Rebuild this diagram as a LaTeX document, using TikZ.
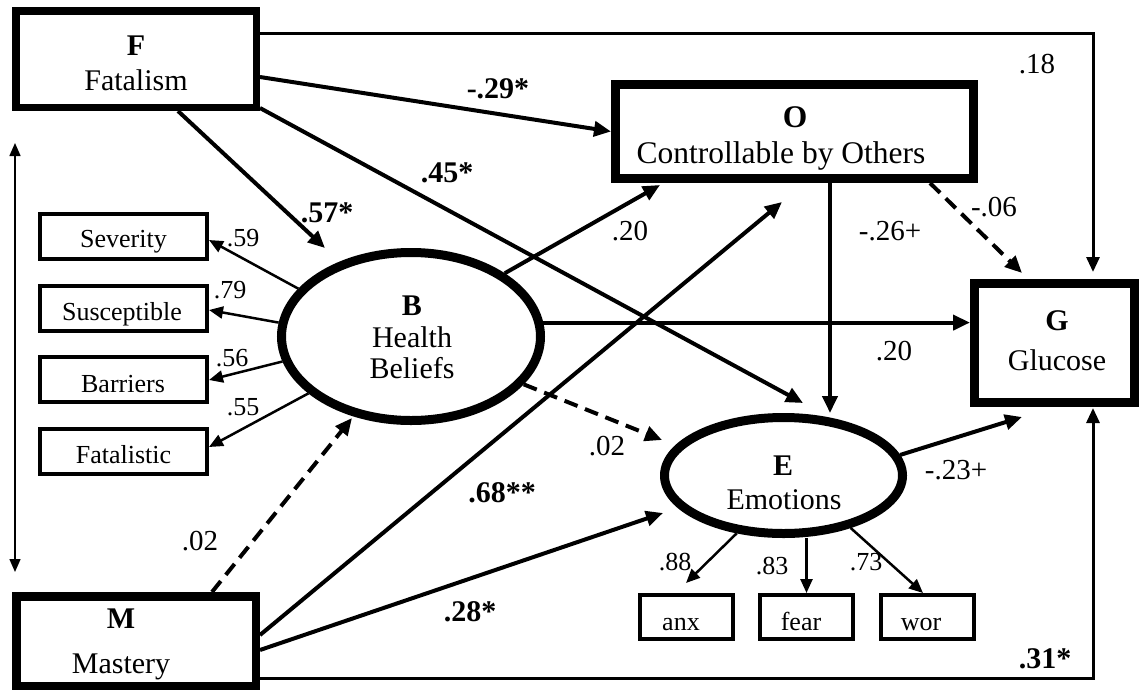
\documentclass[tikz,border=0pt]{standalone}
\usepackage{fontspec}
\setmainfont{Liberation Serif}
\usetikzlibrary{arrows.meta,shapes.geometric,calc}
\begin{document}
\begin{tikzpicture}[x=1pt,y=-1pt,
  bigbox/.style={draw,rectangle,inner sep=0pt},
  latent/.style={draw,ellipse,inner sep=0pt,line width=9pt},
  indic/.style={draw,rectangle,inner sep=0pt,line width=4pt,minimum width=167pt,minimum height=45pt},
  indicE/.style={draw,rectangle,inner sep=0pt,line width=4pt,minimum width=93pt,minimum height=44pt},
  arrmain/.style={line width=4pt,-{Triangle[length=17pt,width=15pt]}},
  arrline/.style={line width=3pt,-{Triangle[length=15pt,width=13pt]}},
  arrdash/.style={arrmain,dash pattern=on 14pt off 8pt},
  arrthin/.style={line width=2.5pt,-{Triangle[length=14pt,width=12pt]}},
  arrdouble/.style={line width=1.5pt,{Triangle[length=13pt,width=11pt]}-{Triangle[length=13pt,width=11pt]}},
  ttl/.style={font=\fontsize{30}{32}\selectfont,anchor=base,inner sep=0pt},
  ttlO/.style={font=\fontsize{31.5}{33}\selectfont,anchor=base,inner sep=0pt},
  indtxt/.style={font=\fontsize{26}{28}\selectfont,anchor=base,inner sep=0pt},
  lblb/.style={font=\fontsize{30}{32}\selectfont\bfseries,inner sep=0pt},
  lblm/.style={font=\fontsize{29}{31}\selectfont,inner sep=0pt},
  lbls/.style={font=\fontsize{26}{28}\selectfont,inner sep=0pt}
]
\fill[white] (0,0) rectangle (1141,691);
\useasboundingbox (0,0) rectangle (1141,691);

% main nodes
\node[bigbox,line width=7.5pt,minimum width=240.5pt,minimum height=96.5pt] (F) at (136,59) {};
\node[bigbox,line width=9pt,minimum width=358pt,minimum height=94pt] (O) at (794.5,131.5) {};
\node[bigbox,line width=9pt,minimum width=160pt,minimum height=119pt] (G) at (1054.5,343) {};
\node[bigbox,line width=8.5pt,minimum width=239.5pt,minimum height=89.5pt] (M) at (136,641) {};
\node[latent,minimum width=259pt,minimum height=168pt] (B) at (411,336.5) {};
\node[latent,minimum width=238pt,minimum height=116pt] (E) at (783.5,475.5) {};

% texts of main nodes
\node[ttl] (Ft1) at (136,55) {\textbf{F}};
\node[ttl] (Ft2) at (136,90) {Fatalism};
\node[ttlO] (Ot1) at (795,127) {\textbf{O}};
\node[ttlO] (Ot2) at (781,163) {Controllable by Others};
\node[ttl] (Gt1) at (1057,330) {\textbf{G}};
\node[ttl] (Gt2) at (1057,370) {Glucose};
\node[ttl] (Mt1) at (121,628) {\textbf{M}};
\node[ttl] (Mt2) at (121,673) {Mastery};
\node[ttl] (Bt1) at (412,315) {\textbf{B}};
\node[ttl] (Bt2) at (412,347) {Health};
\node[ttl] (Bt3) at (412,378) {Beliefs};
\node[ttl] (Et1) at (783,475) {\textbf{E}};
\node[ttl] (Et2) at (784,509) {Emotions};

% indicators
\node[indic] (sev) at (123.5,236.5) {};
\node[indic] (sus) at (123.5,308) {};
\node[indic] (bar) at (123.5,379) {};
\node[indic] (fat) at (123.5,451.5) {};
\node[indtxt] (sevt) at (123.5,247) {Severity};
\node[indtxt] (sust) at (122,320) {Susceptible};
\node[indtxt] (bart) at (123,392) {Barriers};
\node[indtxt] (fatt) at (123.5,463) {Fatalistic};

\node[indicE] (anx) at (686,617) {};
\node[indicE] (fear) at (806.5,617) {};
\node[indicE] (wor) at (927.5,617) {};
\node[indtxt] (anxt) at (681,630) {anx};
\node[indtxt] (feart) at (801,630) {fear};
\node[indtxt] (wort) at (921,630) {wor};

% structural paths
\draw[arrmain] ([yshift=-18pt]F.east) -- (O.west);
\draw[arrline] ([yshift=26pt]F.east) -| ([xshift=38.5pt,yshift=7pt]G.north);
\draw[arrmain] ([xshift=42pt]F.south) -- ([xshift=-86pt,yshift=88.5pt]B.center);
\draw[arrmain] ([yshift=3pt]F.south east) -- ([xshift=19.5pt,yshift=72.5pt]E.center);
\draw[arrmain] ([xshift=35.5pt]O.south) -- ([xshift=35.5pt]O.south |- E.north);
\draw[arrdash] ([xshift=135.5pt]O.south) -- ([xshift=-32.5pt,yshift=6pt]G.north);
\draw[arrmain] (B.34) -- ([xshift=-134.5pt,yshift=-2pt]O.south);
\draw[arrmain] (B.6) -- (B.6 -| G.west);
\draw[arrdash] (B.-23) -- ([xshift=-121.5pt,yshift=35.5pt]E.center);
\draw[arrmain] (E.10) -- ([xshift=52pt,yshift=-10pt]G.south west);
\draw[arrdash] ([xshift=76pt]M.north) -- ([xshift=-59pt,yshift=-81.5pt]B.center);
\draw[arrmain] ([yshift=6pt]M.east) -- ([xshift=-12.5pt,yshift=-19pt]O.south);
\draw[arrmain] ([yshift=-9pt]M.east) -- ([xshift=-120.5pt,yshift=-37.5pt]E.center);
\draw[arrline] ([yshift=-37pt]M.east) -| ([xshift=38.5pt,yshift=-1pt]G.south);

% measurement paths
\draw[arrthin] (B.157) -- ([yshift=-3.5pt]sev.east);
\draw[arrthin] (B.174) -- ([yshift=-2pt]sus.east);
\draw[arrthin] (B.191) -- ([yshift=-1pt]bar.east);
\draw[arrthin] (B.209) -- ([yshift=4.5pt]fat.east);
\draw[arrthin] (E.231) -- ([yshift=10pt]anx.north);
\draw[arrthin] (fear.north |- E.south) -- (fear.north);
\draw[arrthin] (E.-38) -- ([xshift=-4.5pt]wor.north);

% correlation F--M
\draw[arrdouble] ([xshift=3pt,yshift=-32pt]F.south west) -- ([xshift=3pt,yshift=20pt]M.north west);

% labels
\node[lblb] (l29) at (498,89) {-.29*};
\node[lblb] (l45) at (447,173) {.45*};
\node[lblb] (l57) at (327,213) {.57*};
\node[lblm] (l20a) at (630,231) {.20};
\node[lblm] (l18) at (1037,64) {.18};
\node[lblm] (l06) at (994,207) {-.06};
\node[lblm] (l26) at (890,231) {-.26+};
\node[lblm] (l20b) at (894,351) {.20};
\node[lblm] (l02a) at (607,446) {.02};
\node[lblm] (l23) at (956,470) {-.23+};
\node[lblb] (l68) at (502,493) {.68**};
\node[lblb] (l28) at (470,612) {.28*};
\node[lblb] (l31) at (1045,659) {.31*};
\node[lblm] (l02b) at (200,541) {.02};
\node[lbls] (l59) at (243,238) {.59};
\node[lbls] (l79) at (230,290) {.79};
\node[lbls] (l56) at (232,358) {.56};
\node[lbls] (l55) at (243,407) {.55};
\node[lbls] (l88) at (675,562) {.88};
\node[lbls] (l83) at (772,566) {.83};
\node[lbls] (l73) at (866,562) {.73};
\end{tikzpicture}
\end{document}
